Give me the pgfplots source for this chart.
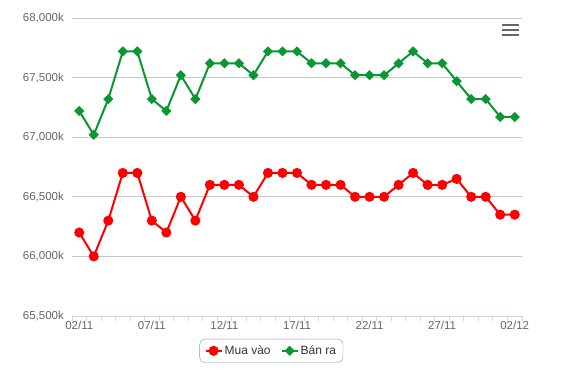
\documentclass[border=0pt]{standalone}
\usepackage{pgfplots}
\pgfplotsset{compat=1.18}
\usepackage{fontspec}
\setmainfont{Liberation Sans}
\definecolor{gridc}{HTML}{C8C8C8}
\definecolor{axisc}{HTML}{CCD6EB}
\definecolor{labc}{HTML}{666666}
\definecolor{legc}{HTML}{333344}
\definecolor{myred}{HTML}{FF0000}
\definecolor{mygreen}{HTML}{0A9630}
\begin{document}
\begin{tikzpicture}
\useasboundingbox (0pt,0pt) rectangle (578pt,375pt);
\begin{axis}[
  at={(72pt,59pt)}, anchor=south west,
  scale only axis, width=450pt, height=298pt,
  xmin=-0.5, xmax=30.5, ymin=65500, ymax=68000,
  scaled y ticks=false,
  axis lines=left,
  every outer x axis line/.append style={-},
  every outer y axis line/.append style={draw=none},
  x axis line style={-, draw=axisc, line width=1pt},
  y axis line style={draw=none},
  xtick={0,5,10,15,20,25,30},
  xticklabels={02/11,07/11,12/11,17/11,22/11,27/11,02/12},
  minor xtick={-0.5,0.5,...,30.5},
  ytick={65500,66000,66500,67000,67500,68000},
  yticklabels={{65,500k},{66,000k},{66,500k},{67,000k},{67,500k},{68,000k}},
  tick align=outside,
  major tick length=0pt,
  minor tick length=5pt,
  minor x tick style={draw=axisc, line width=1pt},
  major tick style={draw=none},
  ymajorgrids,
  major grid style={draw=gridc, line width=1pt},
  ticklabel style={font=\fontsize{11.5}{13}\selectfont, text=labc},
  yticklabel style={inner sep=0pt, anchor=east, xshift=-8pt},
  xticklabel style={inner sep=0pt, anchor=north, yshift=-5pt},
  legend columns=2,
  legend style={at={(0.443,-0.077)}, anchor=north, draw=gray!80, rounded corners=5pt,
    font=\fontsize{12}{14}\selectfont, text=legc, inner xsep=5pt, inner ysep=4.5pt,
    /tikz/every even column/.append style={column sep=8pt}},
  legend image code/.code={\draw[mark repeat=2,mark phase=2,#1] plot coordinates {(0pt,0pt) (8pt,0pt) (16pt,0pt)};},
]
\addplot[color=myred, line width=2pt, mark=*, mark size=4pt, mark options={solid}] coordinates {
(0,66200) (1,66000) (2,66300) (3,66700) (4,66700) (5,66300) (6,66200) (7,66500) (8,66300) (9,66600)
(10,66600) (11,66600) (12,66500) (13,66700) (14,66700) (15,66700) (16,66600) (17,66600) (18,66600) (19,66500)
(20,66500) (21,66500) (22,66600) (23,66700) (24,66600) (25,66600) (26,66650) (27,66500) (28,66500) (29,66350)
(30,66350)};
\addlegendentry{Mua vào}
\addplot[color=mygreen, line width=2pt, mark=square*, mark size=2.6pt, mark options={solid, rotate=45}] coordinates {
(0,67220) (1,67020) (2,67320) (3,67720) (4,67720) (5,67320) (6,67220) (7,67520) (8,67320) (9,67620)
(10,67620) (11,67620) (12,67520) (13,67720) (14,67720) (15,67720) (16,67620) (17,67620) (18,67620) (19,67520)
(20,67520) (21,67520) (22,67620) (23,67720) (24,67620) (25,67620) (26,67470) (27,67320) (28,67320) (29,67170)
(30,67170)};
\addlegendentry{Bán ra}
\end{axis}
\draw[labc, line width=2pt] (502pt,350pt) -- (519pt,350pt);
\draw[labc, line width=2pt] (502pt,345pt) -- (519pt,345pt);
\draw[labc, line width=2pt] (502pt,340pt) -- (519pt,340pt);
\end{tikzpicture}
\end{document}
